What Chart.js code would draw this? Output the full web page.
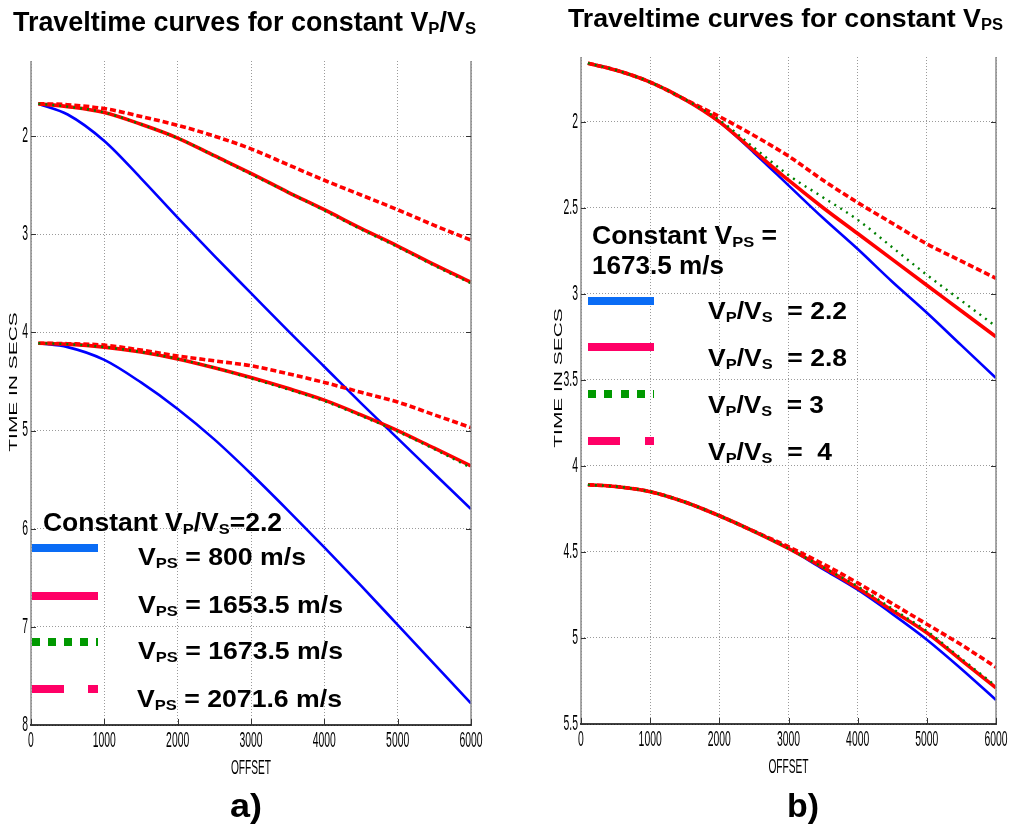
<!DOCTYPE html>
<html>
<head>
<meta charset="utf-8">
<title>Traveltime curves</title>
<script src="https://cdn.jsdelivr.net/npm/chart.js@4/dist/chart.umd.min.js"></script>
<style>
html, body { margin: 0; padding: 0; background: #fff; }
body { width: 1010px; height: 828px; position: relative; overflow: hidden;
       font-family: "Liberation Sans", Arial, Helvetica, sans-serif; }
canvas { position: absolute; top: 0; }
.t { position: absolute; font-weight: bold; white-space: pre; line-height: 1; color: #000;
     transform-origin: 0 0; display: inline-block; }
.t sub { font-size: 0.62em; vertical-align: baseline; position: relative; top: 0.2em; }
.sw { position: absolute; height: 8px; }
</style>
</head>
<body>
<canvas id="chartA" width="505" height="828" style="left:0;width:505px;height:828px"></canvas>
<canvas id="chartB" width="505" height="828" style="left:505px;width:505px;height:828px"></canvas>

<!-- titles -->
<div class="t" data-w="463" style="left:13px;top:9px;font-size:27px">Traveltime curves for constant V<sub>P</sub>/V<sub>S</sub></div>
<div class="t" data-w="435" style="left:568px;top:5px;font-size:26px">Traveltime curves for constant V<sub>PS</sub></div>

<!-- legend, panel a -->
<div class="t" data-w="239" style="left:43px;top:510px;font-size:25px">Constant V<sub>P</sub>/V<sub>S</sub>=2.2</div>
<div class="sw" style="left:32px;top:544px;width:66px;background:#0a6cf5"></div>
<div class="sw" style="left:32px;top:592px;width:66px;background:#ff0066"></div>
<div class="sw" style="left:32px;top:638px;width:66px;background:repeating-linear-gradient(90deg,#009900 0 8px,transparent 8px 16px)"></div>
<div class="sw" style="left:32px;top:685px;width:32px;background:#ff0066"></div>
<div class="sw" style="left:88px;top:685px;width:10px;background:#ff0066"></div>
<div class="t" data-w="168" style="left:138px;top:545px;font-size:24px">V<sub>PS</sub> = 800 m/s</div>
<div class="t" data-w="205" style="left:138px;top:593px;font-size:24px">V<sub>PS</sub> = 1653.5 m/s</div>
<div class="t" data-w="205" style="left:138px;top:639px;font-size:24px">V<sub>PS</sub> = 1673.5 m/s</div>
<div class="t" data-w="205" style="left:137px;top:687px;font-size:24px">V<sub>PS</sub> = 2071.6 m/s</div>

<!-- legend, panel b -->
<div class="t" data-w="185" style="left:592px;top:223px;font-size:25px">Constant V<sub>PS</sub> =</div>
<div class="t" data-w="132" style="left:592px;top:253px;font-size:25px">1673.5 m/s</div>
<div class="sw" style="left:588px;top:297px;width:66px;background:#0a6cf5"></div>
<div class="sw" style="left:588px;top:343px;width:66px;background:#ff0066"></div>
<div class="sw" style="left:588px;top:390px;width:66px;background:repeating-linear-gradient(90deg,#009900 0 8px,transparent 8px 16.3px)"></div>
<div class="sw" style="left:588px;top:437px;width:32px;background:#ff0066"></div>
<div class="sw" style="left:645px;top:437px;width:9px;background:#ff0066"></div>
<div class="t" data-w="139" style="left:708px;top:300px;font-size:23px">V<sub>P</sub>/V<sub>S</sub>  = 2.2</div>
<div class="t" data-w="139" style="left:708px;top:347px;font-size:23px">V<sub>P</sub>/V<sub>S</sub>  = 2.8</div>
<div class="t" data-w="116" style="left:708px;top:394px;font-size:23px">V<sub>P</sub>/V<sub>S</sub>  = 3</div>
<div class="t" data-w="124" style="left:708px;top:441px;font-size:23px">V<sub>P</sub>/V<sub>S</sub>  =  4</div>

<!-- panel letters -->
<div class="t" data-w="32" style="left:230px;top:788px;font-size:34px">a)</div>
<div class="t" data-w="32" style="left:787px;top:788px;font-size:34px">b)</div>

<script>
// Source-receiver offsets (m) at which the traveltimes are listed
const offsets = [100, 500, 1000, 1500, 2000, 2500, 3000, 3500, 4000, 4500, 5000, 5500, 6000];

// Panel a: constant Vp/Vs = 2.2, two reflectors, four Vps values (time in s)
const aUpperVps800  = [1.67, 1.78, 2.05, 2.43, 2.83, 3.22, 3.60, 3.98, 4.35, 4.72, 5.08, 5.44, 5.80];
const aUpperVps1653 = [1.67, 1.70, 1.76, 1.88, 2.02, 2.20, 2.38, 2.57, 2.75, 2.94, 3.12, 3.31, 3.49];
const aUpperVps1673 = [1.67, 1.70, 1.76, 1.88, 2.02, 2.20, 2.39, 2.57, 2.76, 2.95, 3.13, 3.32, 3.50];
const aUpperVps2071 = [1.67, 1.68, 1.72, 1.80, 1.89, 2.00, 2.13, 2.29, 2.45, 2.60, 2.75, 2.91, 3.06];
const aLowerVps800  = [4.11, 4.15, 4.28, 4.51, 4.78, 5.09, 5.44, 5.81, 6.19, 6.58, 6.98, 7.38, 7.78];
const aLowerVps1653 = [4.11, 4.12, 4.15, 4.20, 4.27, 4.36, 4.46, 4.57, 4.69, 4.84, 5.00, 5.18, 5.36];
const aLowerVps1673 = [4.11, 4.12, 4.15, 4.20, 4.27, 4.36, 4.47, 4.58, 4.70, 4.85, 5.01, 5.19, 5.38];
const aLowerVps2071 = [4.11, 4.115, 4.13, 4.18, 4.24, 4.29, 4.34, 4.42, 4.51, 4.61, 4.71, 4.84, 4.97];

// Panel b: constant Vps = 1673.5 m/s, four Vp/Vs ratios (time in s)
const bUpperRatio22 = [1.66, 1.70, 1.77, 1.87, 2.00, 2.18, 2.37, 2.56, 2.74, 2.93, 3.11, 3.30, 3.49];
const bUpperRatio28 = [1.66, 1.70, 1.77, 1.87, 2.00, 2.17, 2.34, 2.50, 2.65, 2.80, 2.95, 3.10, 3.25];
const bUpperRatio3  = [1.66, 1.70, 1.77, 1.87, 1.99, 2.15, 2.31, 2.44, 2.57, 2.73, 2.89, 3.04, 3.19];
const bUpperRatio4  = [1.66, 1.70, 1.77, 1.87, 1.97, 2.08, 2.20, 2.34, 2.47, 2.59, 2.71, 2.81, 2.91];
const bLowerRatio22 = [4.11, 4.12, 4.15, 4.21, 4.29, 4.38, 4.48, 4.60, 4.72, 4.86, 5.01, 5.18, 5.36];
const bLowerRatio28 = [4.11, 4.12, 4.15, 4.21, 4.29, 4.38, 4.48, 4.59, 4.71, 4.84, 4.97, 5.13, 5.29];
const bLowerRatio3  = [4.11, 4.12, 4.15, 4.21, 4.29, 4.38, 4.48, 4.59, 4.70, 4.83, 4.96, 5.12, 5.28];
const bLowerRatio4  = [4.11, 4.12, 4.15, 4.21, 4.29, 4.38, 4.47, 4.57, 4.68, 4.80, 4.92, 5.04, 5.17];

// Axis ticks and their labels
const xTicks = [0, 1000, 2000, 3000, 4000, 5000, 6000];
const xTickLabels = ['0', '1000', '2000', '3000', '4000', '5000', '6000'];
const aYTicks = [2, 3, 4, 5, 6, 7, 8];
const aYTickLabels = ['2', '3', '4', '5', '6', '7', '8'];
const bYTicks = [2, 2.5, 3, 3.5, 4, 4.5, 5, 5.5];
const bYTickLabels = ['2', '2.5', '3', '3.5', '4', '4.5', '5', '5.5'];
const xTitle = 'OFFSET';
const yTitle = 'TIME IN SECS';

// Line styles: 0 solid blue, 1 solid red, 2 dotted green, 3 dashed red
const styles = [
  { color: '#0000ff', width: 2.6, dash: [], order: 4 },
  { color: '#ff0000', width: 3.6, dash: [], order: 3 },
  { color: '#008000', width: 2.4, dash: [2, 5], order: 1 },
  { color: '#ff0000', width: 3.6, dash: [6, 3], order: 2 }
];

function dataset(values, styleIndex) {
  const s = styles[styleIndex];
  return {
    data: offsets.map((o, i) => ({ x: o, y: values[i] })),
    borderColor: s.color,
    borderWidth: s.width,
    borderDash: s.dash,
    order: s.order,
    pointRadius: 0,
    fill: false,
    cubicInterpolationMode: 'monotone',
    borderCapStyle: 'butt'
  };
}

const FONT = '"Liberation Sans", Arial, Helvetica, sans-serif';

// Frame, inward tick marks and vertically stretched axis text
const axisDecor = {
  id: 'axisDecor',
  afterDraw(chart, args, opts) {
    const { ctx, chartArea: a, scales: { x, y } } = chart;
    ctx.save();
    // frame: grey sides, black base
    ctx.lineWidth = 1.5;
    ctx.strokeStyle = '#8c8c8c';
    ctx.beginPath();
    ctx.moveTo(a.left, a.top); ctx.lineTo(a.left, a.bottom);
    ctx.moveTo(a.right, a.top); ctx.lineTo(a.right, a.bottom);
    ctx.stroke();
    ctx.strokeStyle = '#000';
    ctx.beginPath();
    ctx.moveTo(a.left - 1, a.bottom); ctx.lineTo(a.right + 1, a.bottom);
    ctx.stroke();
    // tick marks
    ctx.lineWidth = 1;
    ctx.strokeStyle = '#333';
    ctx.beginPath();
    y.ticks.forEach(t => {
      const py = Math.round(y.getPixelForValue(t.value)) + 0.5;
      ctx.moveTo(a.left, py); ctx.lineTo(a.left + 5, py);
      ctx.moveTo(a.right, py); ctx.lineTo(a.right - 5, py);
    });
    x.ticks.forEach(t => {
      const px = Math.round(x.getPixelForValue(t.value)) + 0.5;
      ctx.moveTo(px, a.bottom); ctx.lineTo(px, a.bottom - 6);
    });
    ctx.stroke();

    ctx.fillStyle = '#000';
    ctx.font = '10.4px ' + FONT;
    ctx.textBaseline = 'middle';
    // x tick labels
    ctx.textAlign = 'center';
    x.ticks.forEach((t, i) => {
      ctx.save();
      ctx.translate(x.getPixelForValue(t.value), a.bottom + 16.5);
      ctx.scale(1, 2.05);
      ctx.fillText(opts.xLabels[i], 0, 0);
      ctx.restore();
    });
    // y tick labels
    ctx.textAlign = 'right';
    y.ticks.forEach((t, i) => {
      ctx.save();
      ctx.translate(a.left - 3, y.getPixelForValue(t.value));
      ctx.scale(1, 2.05);
      ctx.fillText(opts.yLabels[i], 0, 0);
      ctx.restore();
    });
    // axis titles
    ctx.font = '10.2px ' + FONT;
    ctx.textAlign = 'center';
    ctx.save();
    ctx.translate((a.left + a.right) / 2, opts.xTitleY);
    ctx.scale(1, 1.95);
    ctx.fillText(xTitle, 0, 0);
    ctx.restore();
    ctx.font = '11px ' + FONT;
    ctx.save();
    ctx.translate(opts.yTitleX, opts.yTitleY);
    ctx.rotate(-Math.PI / 2);
    ctx.scale(1.9, 1);
    ctx.fillText(yTitle, 0, 0);
    ctx.restore();
    ctx.restore();
  }
};

function makeChart(id, datasets, yTicks, yLabels, yMin, yMax, padding, decor) {
  return new Chart(document.getElementById(id), {
    type: 'line',
    data: { datasets },
    options: {
      responsive: false,
      animation: false,
      events: [],
      layout: { padding },
      plugins: {
        legend: { display: false },
        tooltip: { enabled: false },
        axisDecor: Object.assign({ xLabels: xTickLabels, yLabels }, decor)
      },
      scales: {
        x: {
          type: 'linear', min: 0, max: 6000,
          afterBuildTicks: s => { s.ticks = xTicks.map(v => ({ value: v })); },
          afterFit: s => { s.height = 0; },
          ticks: { display: false },
          grid: { color: '#9a9a9a', lineWidth: 1, drawTicks: false },
          border: { display: false, dash: [1, 2] }
        },
        y: {
          type: 'linear', reverse: true, min: yMin, max: yMax,
          afterBuildTicks: s => { s.ticks = yTicks.map(v => ({ value: v })); },
          afterFit: s => { s.width = 0; },
          ticks: { display: false },
          grid: { color: '#9a9a9a', lineWidth: 1, drawTicks: false },
          border: { display: false, dash: [1, 2] }
        }
      }
    },
    plugins: [axisDecor]
  });
}

makeChart('chartA', [
  dataset(aUpperVps800, 0), dataset(aUpperVps1653, 1), dataset(aUpperVps1673, 2), dataset(aUpperVps2071, 3),
  dataset(aLowerVps800, 0), dataset(aLowerVps1653, 1), dataset(aLowerVps1673, 2), dataset(aLowerVps2071, 3)
], aYTicks, aYTickLabels, 1.235, 8,
  { left: 31, top: 61, right: 34, bottom: 103 },
  { xTitleY: 769, yTitleX: 14, yTitleY: 382 });

makeChart('chartB', [
  dataset(bUpperRatio22, 0), dataset(bUpperRatio28, 1), dataset(bUpperRatio3, 2), dataset(bUpperRatio4, 3),
  dataset(bLowerRatio22, 0), dataset(bLowerRatio28, 1), dataset(bLowerRatio3, 2), dataset(bLowerRatio4, 3)
], bYTicks, bYTickLabels, 1.624, 5.5,
  { left: 76, top: 57, right: 14, bottom: 104 },
  { xTitleY: 767.5, yTitleX: 54, yTitleY: 378 });

// Fit each text block to its intended width
document.querySelectorAll('.t[data-w]').forEach(el => {
  const w = el.getBoundingClientRect().width;
  const target = parseFloat(el.dataset.w);
  if (w > 0) el.style.transform = 'scaleX(' + (target / w).toFixed(4) + ')';
});
</script>
</body>
</html>
